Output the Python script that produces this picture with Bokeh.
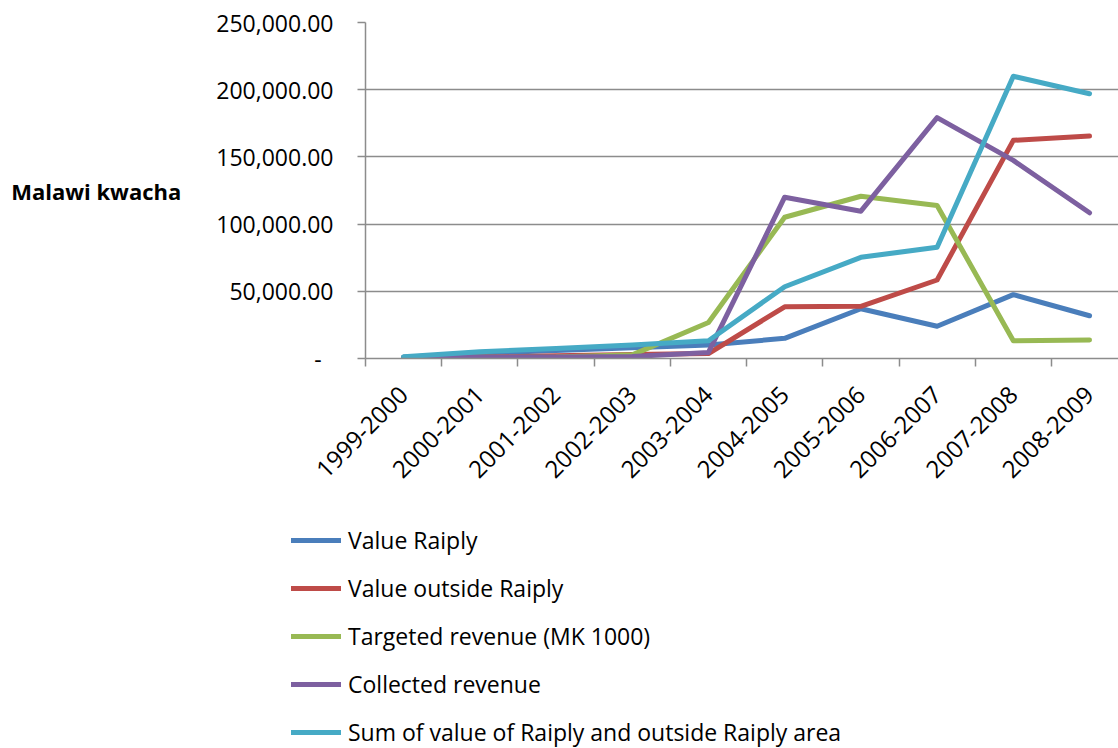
import math
from bokeh.plotting import figure
from bokeh.layouts import column
from bokeh.models import Range1d, FixedTicker, Legend, LegendItem, ColumnDataSource
from bokeh.embed import file_html
from bokeh.resources import INLINE

years = ["1999-2000", "2000-2001", "2001-2002", "2002-2003", "2003-2004",
         "2004-2005", "2005-2006", "2006-2007", "2007-2008", "2008-2009"]
value_raiply = [1000, 4000, 6000, 8000, 10000, 15000, 37000, 24000, 47500, 31800]
value_outside = [300, 1000, 2000, 3000, 3700, 38500, 38800, 58400, 162300, 165500]
targeted_revenue = [800, 900, 1100, 2700, 26800, 105100, 120700, 113800, 13200, 13700]
collected_revenue = [1000, 1000, 1200, 1500, 4500, 120000, 109600, 179200, 147400, 108400]
sum_value = [1300, 5000, 7500, 10000, 13200, 53400, 75300, 82700, 210000, 197000]

series_names = ["Value Raiply", "Value outside Raiply", "Targeted revenue (MK 1000)",
                "Collected revenue", "Sum of value of Raiply and outside Raiply area"]
series_values = [value_raiply, value_outside, targeted_revenue, collected_revenue, sum_value]
colors = ["#4A7EBB", "#BE4B48", "#98B954", "#7D60A0", "#46AAC5"]

y_ticks = [0, 50000, 100000, 150000, 200000, 250000]

FONT = "Open Sans"
GRID = "#8C8C8C"
LINE_W = 5

# ---------------- main chart ----------------
p = figure(width=1118, height=490, output_backend="svg", toolbar_location=None,
           x_range=Range1d(0, 9.88), y_range=Range1d(0, 250000),
           min_border_left=365, min_border_right=0, min_border_top=22,
           min_border_bottom=132)
p.outline_line_color = None
p.background_fill_color = "white"
p.border_fill_color = "white"

xs = [i + 0.5 for i in range(len(years))]

for name, vals, col in zip(series_names, series_values, colors):
    src = ColumnDataSource(dict(x=xs, y=vals))
    p.line("x", "y", source=src, line_color=col, line_width=LINE_W,
           line_cap="round", line_join="round")

# x axis
p.xgrid.visible = False
p.xaxis.ticker = FixedTicker(ticks=xs, minor_ticks=list(range(0, 10)))
p.xaxis.major_label_overrides = {x: y for x, y in zip(xs, years)}
p.xaxis.major_label_orientation = math.pi / 4
p.xaxis.major_tick_out = 0
p.xaxis.major_tick_in = 0
p.xaxis.minor_tick_out = 8
p.xaxis.minor_tick_in = 0
p.xaxis.minor_tick_line_color = GRID
p.xaxis.minor_tick_line_width = 1.5
p.xaxis.axis_line_color = GRID
p.xaxis.axis_line_width = 1.5
p.xaxis.major_label_standoff = 24
p.xaxis.major_label_text_font = FONT
p.xaxis.major_label_text_font_size = "24px"
p.xaxis.major_label_text_color = "black"

# y axis
p.yaxis.ticker = FixedTicker(ticks=y_ticks, minor_ticks=[])
labels = {}
for t in y_ticks:
    labels[t] = "-\u00a0\u00a0" if t == 0 else f"{t:,.2f}"
p.yaxis.major_label_overrides = labels
p.yaxis.major_tick_out = 8
p.yaxis.major_tick_in = 0
p.yaxis.major_tick_line_color = GRID
p.yaxis.major_tick_line_width = 1.5
p.yaxis.minor_tick_line_color = None
p.yaxis.axis_line_color = GRID
p.yaxis.axis_line_width = 1.5
p.yaxis.major_label_standoff = 24
p.yaxis.major_label_text_font = FONT
p.yaxis.major_label_text_font_size = "23px"
p.yaxis.major_label_text_color = "black"
p.yaxis.axis_label = "Malawi kwacha"
p.yaxis.axis_label_text_font = FONT
p.yaxis.axis_label_text_font_size = "22px"
p.yaxis.axis_label_text_font_style = "bold"
p.yaxis.axis_label_text_color = "black"
p.yaxis.axis_label_standoff = 32
try:
    p.yaxis.axis_label_orientation = "horizontal"
except Exception:
    pass

p.ygrid.ticker = FixedTicker(ticks=y_ticks)
p.ygrid.grid_line_color = GRID
p.ygrid.grid_line_width = 1.5

# ---------------- legend strip below ----------------
leg = figure(width=1118, height=258, output_backend="svg", toolbar_location=None,
             x_range=Range1d(-10, -9), y_range=Range1d(-10, -9),
             x_axis_type=None, y_axis_type=None,
             min_border_left=0, min_border_right=0, min_border_top=0,
             min_border_bottom=0)
leg.outline_line_color = None
leg.xgrid.visible = False
leg.ygrid.visible = False

for fig in (p, leg):
    try:
        fig.frame_align = False
    except Exception:
        pass

items = []
for name, vals, col in zip(series_names, series_values, colors):
    src = ColumnDataSource(dict(x=xs, y=vals))
    r = leg.line("x", "y", source=src, line_color=col, line_width=LINE_W,
                 line_cap="round", line_join="round")
    items.append(LegendItem(label=name, renderers=[r]))

legend = Legend(items=items, location=(291, 0), orientation="vertical",
                glyph_width=50, glyph_height=20, label_standoff=7,
                label_text_font=FONT, label_text_font_size="23px",
                label_text_color="black", spacing=16, padding=10, margin=0,
                border_line_color=None, background_fill_alpha=0)
leg.add_layout(legend, "center")

layout = column(p, leg, spacing=0)
open("out.html", "w").write(file_html(layout, INLINE))
